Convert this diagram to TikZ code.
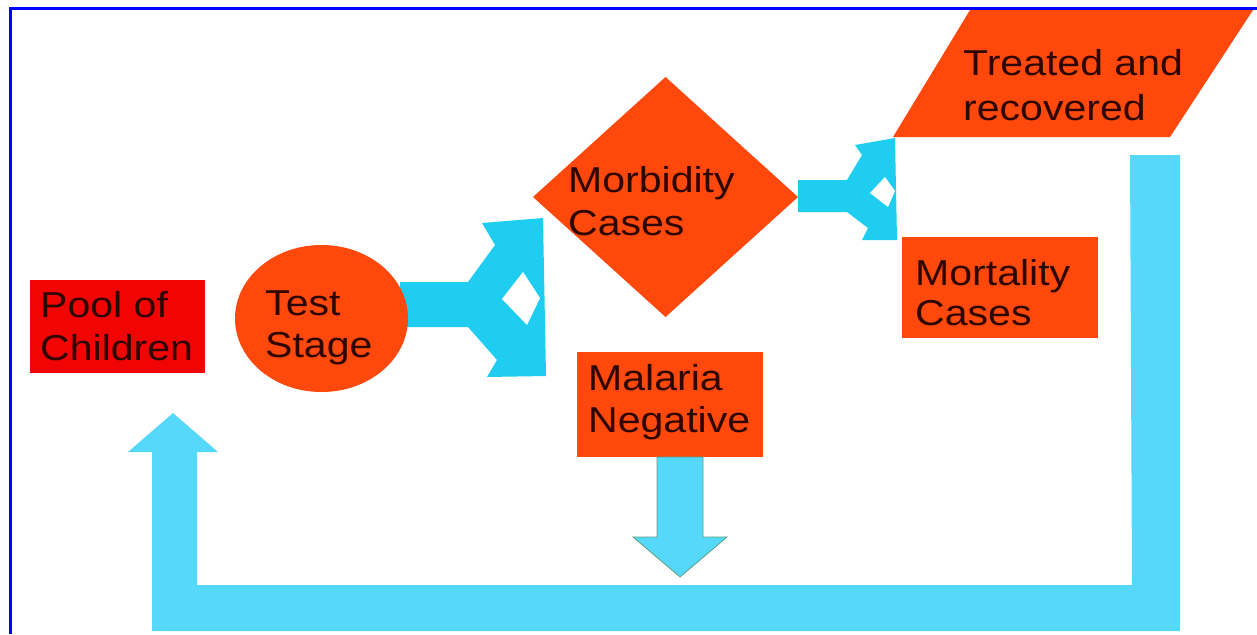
\documentclass[tikz,border=0pt]{standalone}
\usepackage{fontspec}
\setmainfont{Liberation Sans}[FakeStretch=1.14]
\usetikzlibrary{shapes.geometric}
\definecolor{orng}{RGB}{255,72,12}
\definecolor{poolred}{RGB}{240,4,4}
\definecolor{forkblue}{RGB}{30,205,240}
\definecolor{loopblue}{RGB}{85,216,250}
\definecolor{txtdark}{RGB}{46,6,0}
\definecolor{frameblue}{RGB}{0,0,255}
\definecolor{arrowedge}{RGB}{95,160,130}
\newcommand\twolines[3]{\vtop{\baselineskip=#3pt\hbox{#1}\hbox{#2}}}
\begin{document}
\begin{tikzpicture}[x=1pt,y=-1pt,
  lbl/.style={anchor=base west, inner sep=0pt, text=txtdark, font=\fontsize{36}{43}\selectfont},
  blk/.style={draw=none, inner sep=0pt, outer sep=0pt},
  blockarrow/.style={fill=forkblue, draw=none},
  loop/.style={fill=loopblue, draw=none}]
\useasboundingbox (0,0) rectangle (1257,634);
\fill[white] (0,0) rectangle (1257,634);

% block arrows (behind the shapes)
\fill[loop] (1130,155) -- (1180,155) -- (1180,631) -- (152,631) -- (152,452) -- (128,452)
  -- (173,413) -- (218,452) -- (197,452) -- (197,585) -- (1132,585) -- cycle;

\fill[blockarrow] (400,282) -- (468,282) -- (495,245) -- (482,223) -- (543,218) -- (546,376)
  -- (487,377) -- (497,360) -- (468,327) -- (400,327) -- cycle;
\fill[white] (502,299) -- (523,272) -- (540,298) -- (527,325) -- cycle;

\fill[blockarrow] (798,180) -- (847,180) -- (862,155) -- (855,145) -- (895,138) -- (897,240)
  -- (862,240) -- (868,228) -- (847,212) -- (798,212) -- cycle;
\fill[white] (870,193) -- (885,177) -- (895,191) -- (888,207) -- cycle;

% shapes
\node[blk, fill=poolred, minimum width=175pt, minimum height=93pt] (pool) at (117.5,326.5) {};
\node[blk, ellipse, fill=orng, minimum width=173pt, minimum height=147pt] (test) at (321.5,318.5) {};
\node[blk, diamond, fill=orng, minimum width=265pt, minimum height=240pt] (morb) at (665.5,197) {};
\node[blk, fill=orng, minimum width=186pt, minimum height=105pt] (malneg) at (670,404.5) {};
\node[blk, fill=orng, minimum width=196pt, minimum height=101pt] (mort) at (1000,287.5) {};
\fill[orng] (893,137) -- (1170,137) -- (1253,10) -- (970,10) -- cycle;
\coordinate (treated) at (1071,73.5);

% down arrow from Malaria Negative
\filldraw[fill=loopblue, draw=arrowedge, line width=0.8pt] (malneg.south) ++(-13,0) -- ++(46,0)
  -- ++(0,80) -- ++(24,0) -- ++(-47,40) -- ++(-47,-40) -- ++(24,0) -- cycle;

% labels
\node[lbl] (pooltxt) at (40,317) {\twolines{Pool of}{Children}{43}};
\node[lbl] (testtxt) at (265,315) {\twolines{Test}{Stage}{42}};
\node[lbl] (morbtxt) at (568,192) {\twolines{Morbidity}{Cases}{43}};
\node[lbl] (treatedtxt) at (963,75) {\twolines{Treated and}{recovered}{45}};
\node[lbl] (morttxt) at (915,285) {\twolines{Mortality}{Cases}{40}};
\node[lbl] (malnegtxt) at (588,390) {\twolines{Malaria}{Negative}{42}};

% frame
\draw[frameblue, line width=3pt] (10,634) -- (10,9) -- (1257,9);
\end{tikzpicture}
\end{document}
